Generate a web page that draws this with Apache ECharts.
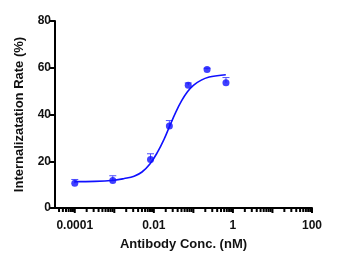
<!DOCTYPE html>
<html><head><meta charset="utf-8">
<script src="https://cdn.jsdelivr.net/npm/echarts@6/dist/echarts.min.js"></script>
<style>html,body{margin:0;padding:0;background:#fff}#c{width:350px;height:263px}</style>
</head><body><div id="c"></div>
<script>
// measured points: concentration (nM), mean (%), upper error bar top (%)
const conc = [0.0001, 0.000915, 0.00823, 0.0247, 0.0741, 0.222, 0.667];
const mean = [10.6, 11.8, 20.8, 35.1, 52.5, 59.3, 53.6];
const errTop = [12.2, 13.8, 23.2, 37.4, 53.5, 59.8, 55.8];
// fitted curve: log10(conc), value
const curveLogX = [-4.0, -3.5, -3.0, -2.75, -2.5, -2.3, -2.1, -1.9, -1.75, -1.6, -1.45, -1.3, -1.15, -1.0, -0.8, -0.6, -0.4, -0.18];
const curveY = [11.3, 11.4, 11.9, 12.6, 13.6, 15.4, 18.8, 24.1, 29.1, 35.0, 40.8, 45.8, 49.7, 52.5, 54.7, 56.0, 56.6, 57.0];
const xTickLabels = {'-4': '0.0001', '-2': '0.01', '0': '1', '2': '100'};
const yTicks = [0, 20, 40, 60, 80];

const BLUE = '#1010ff';
const font = '"Liberation Sans", Arial, sans-serif';

const ptsData = conc.map((c, i) => [Math.log10(c), mean[i]]);
const errData = conc.map((c, i) => [Math.log10(c), mean[i], errTop[i]]);
const curveData = curveLogX.map((x, i) => [x, curveY[i]]);
const tickData = [];
for (let d = -5; d <= 2; d++) {
  for (let k = 1; k <= 9; k++) {
    const v = d + Math.log10(k);
    if (v >= -4.5 - 1e-9 && v <= 2 + 1e-9) tickData.push([v, k === 1 ? 1 : 0]);
  }
}

const chart = echarts.init(document.getElementById('c'), null, {renderer: 'canvas'});
chart.setOption({
  animation: false,
  grid: {left: 55, right: 38, top: 21, bottom: 55},
  xAxis: {
    type: 'value', min: -4.5, max: 2, interval: 0.5,
    splitLine: {show: false},
    axisLine: {onZero: false, lineStyle: {color: '#000', width: 2}},
    axisTick: {show: false},
    axisLabel: {
      margin: 12, color: '#111', fontWeight: 'bold', fontSize: 12, fontFamily: font,
      formatter: v => xTickLabels[String(Math.round(v))] !== undefined && Math.abs(v - Math.round(v)) < 1e-9 ? xTickLabels[String(Math.round(v))] : ''
    },
    name: 'Antibody Conc. (nM)', nameLocation: 'middle', nameGap: 30,
    nameTextStyle: {color: '#111', fontWeight: 'bold', fontSize: 13, fontFamily: font}
  },
  yAxis: {
    type: 'value', min: 0, max: 80, interval: 20,
    splitLine: {show: false},
    axisLine: {show: true, onZero: false, lineStyle: {color: '#000', width: 2}},
    axisTick: {show: true, length: 5, lineStyle: {color: '#000', width: 2}},
    axisLabel: {margin: 4, color: '#111', fontWeight: 'bold', fontSize: 12, fontFamily: font},
    name: 'Internalizatation Rate (%)', nameLocation: 'middle', nameGap: 29,
    nameTextStyle: {color: '#111', fontWeight: 'bold', fontSize: 13, fontFamily: font}
  },
  series: [
    {
      type: 'custom', data: tickData, clip: false, silent: true,
      renderItem: (params, api) => {
        const p = api.coord([api.value(0), 0]);
        const len = api.value(1) ? 5 : 4;
        return {type: 'line', shape: {x1: p[0], y1: p[1], x2: p[0], y2: p[1] + len},
                style: {stroke: '#000', lineWidth: 2}};
      }
    },
    {
      type: 'line', data: curveData, smooth: 0.4, showSymbol: false, silent: true,
      lineStyle: {color: BLUE, width: 1.6}
    },
    {
      type: 'custom', data: errData, silent: true,
      renderItem: (params, api) => {
        const a = api.coord([api.value(0), api.value(1)]);
        const b = api.coord([api.value(0), api.value(2)]);
        return {type: 'group', children: [
          {type: 'line', shape: {x1: a[0], y1: a[1], x2: b[0], y2: b[1]}, style: {stroke: '#5050ff', lineWidth: 1}},
          {type: 'line', shape: {x1: b[0] - 3.5, y1: b[1], x2: b[0] + 3.5, y2: b[1]}, style: {stroke: '#5050ff', lineWidth: 1}}
        ]};
      }
    },
    {
      type: 'scatter', data: ptsData, symbol: 'circle', symbolSize: 7, silent: true,
      itemStyle: {color: BLUE}
    }
  ]
});
</script></body></html>
